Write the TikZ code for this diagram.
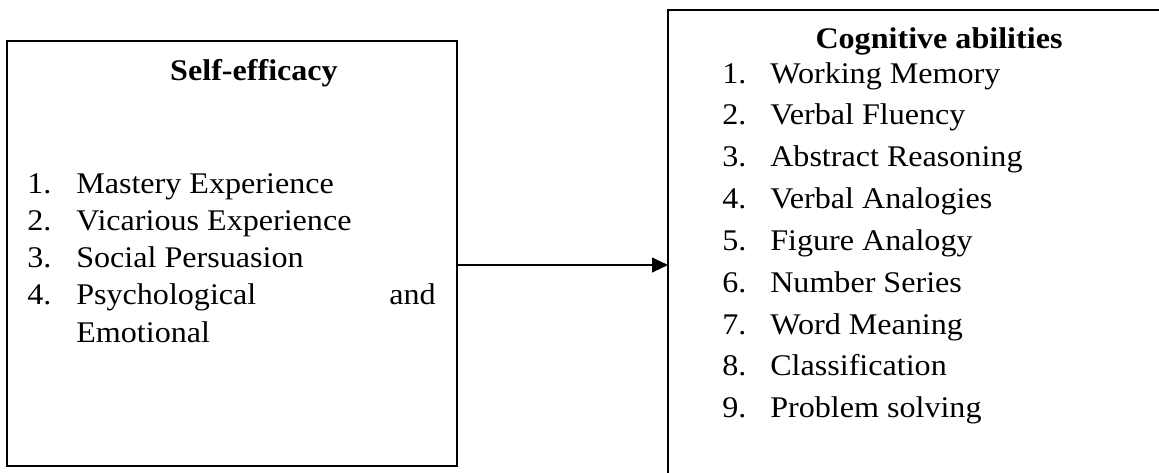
\documentclass[tikz,border=0pt]{standalone}
\usepackage{fontspec}
\setmainfont[FakeStretch=1.07]{Liberation Serif}
\newcommand{\fsz}{\fontsize{22.5}{26}\selectfont}
\usetikzlibrary{arrows.meta,calc}
\tikzset{
  box/.style={draw=black, line width=1.5pt, rectangle, inner sep=0pt, outer sep=0pt},
  txt/.style={anchor=base west, inner sep=0pt, font=\fsz},
  ttl/.style={anchor=base, inner sep=0pt, font=\fsz\bfseries},
  arr/.style={line width=1.5pt, -{Triangle[length=12pt,width=11pt]}}
}
\begin{document}
\begin{tikzpicture}[x=0.75pt,y=-0.75pt]
\useasboundingbox (0,0) rectangle (1159,472);
\clip (0,0) rectangle (1159,472);
% boxes
\node[box, minimum width=337.5pt, minimum height=318.75pt] (L) at (232,253.5) {};
\node[box, minimum width=380.25pt, minimum height=360pt] (R) at (921.5,250) {};
% arrow
\draw[arr] (L.east) ++(0,11.5) coordinate (a0) -- (a0 -| R.west);
% left texts
\node[ttl] (lt) at (254,80) {Self-efficacy};
\node[txt] (ln1) at (27,193) {1.};
\node[txt] (li1) at (76,193) {Mastery Experience};
\node[txt] (ln2) at (27,230) {2.};
\node[txt] (li2) at (76,230) {Vicarious Experience};
\node[txt] (ln3) at (27,267) {3.};
\node[txt] (li3) at (76,267) {Social Persuasion};
\node[txt] (ln4) at (27,304) {4.};
\node[txt] (li4) at (76,304) {Psychological};
\node[txt, anchor=base east] (li4b) at (436,304) {and};
\node[txt] (li5) at (76,342) {Emotional};
% right texts
\node[ttl] (rt) at (939,48) {Cognitive abilities};
\foreach \i/\t in {1/Working Memory,2/Verbal Fluency,3/Abstract Reasoning,4/Verbal Analogies,5/Figure Analogy,6/Number Series,7/Word Meaning,8/Classification,9/Problem solving}{
  \node[txt] (rn\i) at (722,{83+41.85*(\i-1)}) {\i.};
  \node[txt] (ri\i) at (770,{83+41.85*(\i-1)}) {\t};
}
\end{tikzpicture}
\end{document}
